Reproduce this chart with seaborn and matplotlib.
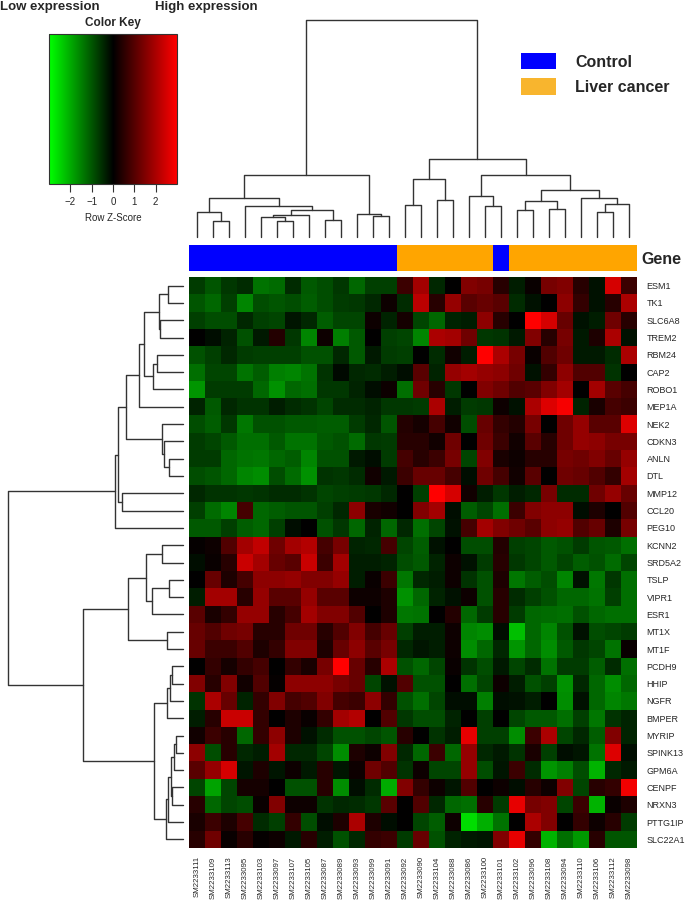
import numpy as np
import pandas as pd
import matplotlib.pyplot as plt
from matplotlib.colors import LinearSegmentedColormap, ListedColormap
from matplotlib.patches import Patch
import seaborn as sns

genes = ['ESM1', 'TK1', 'SLC6A8', 'TREM2', 'RBM24', 'CAP2', 'ROBO1', 'MEP1A', 'NEK2',
         'CDKN3', 'ANLN', 'DTL', 'MMP12', 'CCL20', 'PEG10', 'KCNN2', 'SRD5A2', 'TSLP',
         'VIPR1', 'ESR1', 'MT1X', 'MT1F', 'PCDH9', 'HHIP', 'NGFR', 'BMPER', 'MYRIP',
         'SPINK13', 'GPM6A', 'CENPF', 'NRXN3', 'PTTG1IP', 'SLC22A1']

samples = ['SM2233111', 'SM2233109', 'SM2233113', 'SM2233095', 'SM2233103', 'SM2233097',
           'SM2233107', 'SM2233105', 'SM2233087', 'SM2233089', 'SM2233093', 'SM2233099',
           'SM2233091', 'SM2233092', 'SM2233090', 'SM2233104', 'SM2233088', 'SM2233086',
           'SM2233100', 'SM2233101', 'SM2233102', 'SM2233096', 'SM2233108', 'SM2233094',
           'SM2233110', 'SM2233106', 'SM2233112', 'SM2233098']

groups = ['Control', 'Control', 'Control', 'Control', 'Control', 'Control', 'Control',
          'Control', 'Control', 'Control', 'Control', 'Control', 'Control',
          'Liver cancer', 'Liver cancer', 'Liver cancer', 'Liver cancer', 'Liver cancer',
          'Liver cancer', 'Control', 'Liver cancer', 'Liver cancer', 'Liver cancer',
          'Liver cancer', 'Liver cancer', 'Liver cancer', 'Liver cancer', 'Liver cancer']

# row z-scores, one list per gene (columns in sample order)
z_rows = [
    [-0.7, -1.0, -0.65, -0.5, -1.35, -1.25, -0.5, -1.05, -0.9, -0.65, -1.2, -0.75, -0.75, 0.7, 1.9, -0.45, 0, 1.5, 1.4, 0.45, -0.35, 0.1, 1.4, 1.5, 0.45, -0.2, 2.5, 0.7],
    [-1.0, -1.2, -0.75, -1.55, -0.9, -1.0, -0.9, -1.1, -0.9, -0.7, -0.65, -0.45, 0.15, -0.5, 2.2, 0.45, 1.75, 1.05, 1.2, 1.05, -0.5, -0.2, 0, 1.65, 0.6, -0.2, 0.45, 2.0],
    [-0.75, -0.9, -0.9, -0.45, -0.75, -0.8, -0.25, -0.45, -1.1, -0.8, -0.8, 0.15, -0.4, 0.25, -0.8, -1.2, -0.4, -0.35, 1.65, 0.45, 0, 3.0, 2.5, 1.2, -0.2, -0.35, 1.3, 0.45],
    [0, -0.15, -0.4, -0.95, -0.3, 0.4, -0.65, -1.55, 0.15, -1.5, -1.05, 0, -0.75, -0.8, -1.55, 2.0, 1.9, 1.3, -0.65, -0.6, -0.3, 1.5, 0.45, 1.4, -0.3, 0.35, 2.0, -0.2],
    [-0.95, -0.75, -0.45, -0.7, -0.75, -0.75, -0.75, -0.95, -0.95, -0.45, -1.05, -0.3, -0.7, -0.75, 0, -0.5, 0.2, -0.35, 3.0, 2.0, 1.4, 0.1, 0.95, 1.3, -0.3, -0.3, -0.5, 2.0],
    [-1.3, -0.8, -0.8, -1.35, -1.1, -1.5, -1.55, -1.35, -0.6, -0.1, -0.45, -0.5, -0.35, -0.15, 1.05, -0.4, 1.75, 1.9, 1.75, 1.65, 1.3, -0.2, 0.6, 1.65, 0.95, 0.95, -0.6, 0],
    [-1.75, -0.7, -0.7, -0.7, -1.2, -1.7, -1.2, -1.3, -0.65, -0.65, -0.4, -0.15, 0.15, -1.3, 1.3, 0.45, -0.65, 0, 1.5, 1.3, 0.95, 1.05, 1.5, 1.9, 0, 1.9, 1.05, 0.8],
    [-0.4, -1.05, -0.45, -0.6, -0.6, -0.35, -0.5, -0.6, -0.8, -0.5, -0.5, -0.4, -0.65, -0.65, -0.7, 2.0, -0.35, -0.7, -0.65, 0.15, -0.2, 2.0, 2.6, 2.9, -0.4, 0.3, 0.8, 0.7],
    [-0.9, -1.1, -0.65, -1.4, -0.95, -0.95, -1.05, -1.05, -1.1, -1.1, -0.7, -0.45, -1.0, 0.4, 0.25, 0.8, 0.2, -0.9, 1.2, 0.6, 0.4, 1.4, 0, 1.3, 1.75, 1.05, 1.05, 2.6],
    [-0.7, -0.8, -1.05, -1.3, -1.3, -1.05, -1.35, -1.35, -1.05, -0.95, -1.25, -0.65, -0.7, 0.45, 0.45, 0.2, 1.3, 0, 1.3, 0.7, 0.2, 1.05, 0.45, 1.3, 1.75, 1.65, 1.4, 1.4],
    [-0.7, -0.7, -1.2, -1.35, -1.4, -1.2, -1.1, -1.55, -0.95, -0.95, -0.3, -0.15, -0.7, 0.8, 0.45, 0.7, 1.4, -0.8, 1.5, 0.3, 0.15, 0.45, 0.45, 1.4, 1.3, 1.5, 1.2, 1.75],
    [-0.9, -1.0, -1.2, -1.55, -1.65, -0.9, -1.25, -1.7, -0.6, -0.65, -0.5, 0.2, -0.3, 0.7, 1.2, 1.2, 0.8, -0.15, 1.3, 0.8, 0.2, 1.05, 0, 1.3, 1.2, 0.95, 0.6, 1.9],
    [-0.45, -0.6, -0.6, -0.65, -0.6, -0.5, -0.5, -0.6, -0.8, -0.75, -0.7, -0.65, -0.45, 0, -0.75, 3.0, 2.5, 0.2, -0.35, -0.65, -0.35, -0.45, 1.4, -0.5, -0.5, 1.3, 1.75, 1.2],
    [-0.75, -1.25, -1.55, 0.8, -1.2, -1.1, -1.0, -1.0, -0.75, -0.45, 1.65, 0.3, 0.2, 0, 1.5, 1.9, -0.15, -1.1, -0.8, -1.3, 0.7, 1.5, 1.65, 1.65, -0.15, 0.35, 0, 0.95],
    [-1.05, -1.05, -0.75, -1.1, -1.2, -0.75, -0.15, 0, -0.95, -0.65, -1.2, -0.4, -1.2, -0.45, -1.3, -0.8, -0.2, 0.8, 1.9, 1.5, 1.3, 1.05, 1.65, 1.75, 0.95, 1.2, 0.35, 1.4],
    [0.05, 0.15, 0.95, 1.9, 2.25, 1.3, 1.9, 2.1, 0.8, 1.4, -0.4, -0.45, 0.8, -0.8, -1.1, -0.2, 0, -0.9, -0.9, 0.4, -0.75, -0.8, -1.05, -0.95, -0.7, -1.0, -1.05, -1.3],
    [-0.15, 0.1, 0.45, 2.35, 1.9, 1.2, 1.05, 2.35, 0.7, 1.9, -0.35, -0.35, -0.4, -0.9, -1.05, -0.4, 0.15, -0.2, -0.7, 0.45, -0.65, -0.8, -1.05, -0.8, -1.1, -0.95, -1.25, -0.8],
    [0, 1.2, 0.35, 0.8, 1.65, 1.65, 1.75, 1.5, 1.5, 1.75, -0.35, 0.1, 0.7, -1.4, -0.45, -0.35, 0.15, -0.6, -0.95, 0.35, -1.4, -1.1, -0.9, -1.55, -0.2, -1.4, -0.65, -1.3],
    [-0.35, 1.9, 1.9, 0.45, 1.75, 1.05, 1.05, 1.75, 1.05, 1.05, 0.15, 0.15, 0.35, -1.7, -1.2, -0.4, -0.2, 0.15, -0.95, 0.45, -0.5, -0.75, -0.95, -1.2, -1.2, -1.35, -0.75, -1.3],
    [1.05, 0.3, 0.6, 1.75, 1.75, 0.45, 0.8, 1.9, 1.5, 1.5, 0.95, 0, 0.35, -1.4, -1.35, 0, 0.4, -1.2, -0.7, 0.45, -0.7, -1.2, -1.25, -1.3, -0.95, -1.2, -1.3, -1.3],
    [1.2, 0.95, 1.3, 1.4, 0.45, 0.45, 1.3, 1.3, 0.45, 0.95, 1.5, 0.8, 1.2, -0.75, -0.35, -0.35, 0.15, -1.55, -1.65, -0.15, -2.25, -1.2, -1.55, -0.95, -0.2, -0.9, -0.8, -0.7],
    [1.2, 0.7, 0.7, 0.95, 0.35, 0.6, 1.5, 1.5, 0.35, 1.2, 1.65, 1.05, 1.4, -0.45, -0.25, -0.35, 0.15, -1.65, -1.2, -0.45, -1.75, -1.2, -1.65, -1.05, -0.65, -0.8, -1.35, 0.1],
    [0, 0.6, 0.25, 0.6, 0.8, 0, 0.6, 0.3, 1.4, 3.0, 1.2, 0.45, 2.0, -0.95, -1.2, -0.8, 0.1, -0.6, -0.9, -0.3, -0.8, -0.5, -1.35, -0.7, -0.7, -1.1, -0.5, -1.3],
    [1.5, 0.45, 1.5, 0.2, 0.95, 0.05, 1.65, 1.65, 1.65, 1.4, 1.2, -0.8, -0.2, 0.95, -0.95, -0.95, 0, -1.3, -0.8, 0.15, -0.35, -0.95, -0.75, -1.7, -0.45, -1.2, -1.65, -1.2],
    [-0.6, 2.0, 1.2, -0.4, 0.6, 1.5, 0.8, 0.95, 1.5, 0.8, 0.7, 1.65, 0.6, -0.95, -1.3, -0.8, -0.15, -0.15, -1.5, -0.15, -0.2, -0.35, 0, -1.65, -0.2, -1.2, -1.55, -1.4],
    [-0.35, 0.45, 2.35, 2.35, 0.6, 0, 0.35, 0.1, 0.6, 1.9, 2.1, 0, 0.95, -0.65, -0.9, -0.9, -0.4, 0, -0.75, 0, -0.8, -1.05, -1.05, -1.3, -0.75, -1.4, -0.6, -0.4],
    [0.2, 0.7, 0.45, -1.2, 0.6, 1.65, 0.35, -0.2, -0.5, -0.95, -0.95, -0.8, -1.0, 0.45, 0, -0.6, -0.35, 2.7, -0.75, -0.75, -1.65, 0.7, 2.0, -0.8, -0.45, -1.1, 1.5, -0.4],
    [1.65, -0.9, 0.45, -0.45, -0.35, 1.9, -0.45, -0.45, -0.8, -1.65, 0.35, 0.15, 1.5, -0.45, -1.2, 0.7, -1.2, 1.75, -0.45, -0.3, -0.6, 0.3, -0.75, -0.15, -0.25, -1.35, 2.6, -0.15],
    [1.05, 1.75, 2.5, -0.25, 0.35, -0.25, 0.15, -0.3, 0.45, -0.25, 0.15, 1.3, 0.95, -0.6, 0.15, -0.8, -0.8, 1.75, -0.9, -0.25, 0.7, -0.5, -1.75, -1.5, -0.9, -2.1, -0.45, -0.3],
    [-0.8, -1.9, -0.8, 0.25, 0.25, 0, -0.95, -0.95, 0.45, -1.65, -0.15, -0.5, -2.0, 1.5, 0.6, 0.15, -0.25, 0.95, 0, 0.15, -0.15, 0.45, 0.15, 1.5, -0.8, 0.45, 0.6, 2.85],
    [0.45, -1.2, -0.8, -0.9, 0.1, 1.5, 0.15, 0.15, -0.6, -0.45, -0.5, -0.65, 1.05, 0, 0.95, -0.45, -1.2, -1.3, 0.45, -0.7, 2.7, 1.4, 1.5, -0.8, 0.7, -2.1, 0.1, 0.35],
    [0.3, 0.7, 0.35, 0.8, -0.5, -0.75, 0.6, -0.9, -0.15, 0.35, 2.0, 0.35, -0.15, 0, -0.8, -1.1, 0.15, -2.6, -2.05, -1.35, 0, 2.0, 1.5, 0, 0.6, 0.15, 0.45, -0.7],
    [0.45, 1.3, 0.1, 0.45, 0.05, 0.15, -0.3, 0.45, -0.35, -0.95, -0.45, 0.6, 0.7, -0.7, 1.2, -0.95, -0.4, -0.3, -0.25, 1.5, 2.7, 0.6, -2.1, -1.3, -1.8, 0.45, -1.0, -1.0],
]

# dendrogram merges, scipy style: (left, right, height); ids >= n are earlier merges
col_merges = [
    (1, 2, 47), (0, 28, 76), (5, 6, 47), (4, 30, 60), (31, 7, 65), (8, 9, 50),
    (32, 33, 80), (3, 34, 92), (29, 35, 117), (11, 12, 62), (10, 37, 70), (36, 38, 187),
    (13, 14, 95), (15, 16, 112), (40, 41, 175), (18, 19, 94), (17, 43, 123), (20, 21, 80),
    (22, 23, 85), (45, 46, 107), (25, 26, 75), (48, 27, 100), (24, 49, 116), (47, 50, 140),
    (44, 51, 187), (42, 52, 233), (39, 53, 650),
]
row_merges = [
    (0, 1, 46), (2, 3, 68), (33, 34, 73), (4, 5, 78), (36, 6, 90), (35, 37, 116),
    (38, 7, 131), (10, 11, 43), (9, 40, 58), (8, 41, 63), (39, 42, 170), (12, 13, 181),
    (43, 44, 193), (45, 14, 203), (15, 16, 63), (17, 18, 41), (48, 19, 93), (47, 49, 112),
    (20, 21, 48), (50, 51, 163), (22, 23, 33), (53, 24, 38), (54, 25, 48), (26, 27, 21),
    (56, 28, 26), (29, 30, 33), (57, 58, 35), (59, 31, 45), (60, 32, 51), (55, 61, 88),
    (52, 62, 298), (46, 63, 523),
]

group_colors = {'Control': '#0000FF', 'Liver cancer': '#FFA500'}
legend_colors = {'Control': '#0000FF', 'Liver cancer': '#F8B52E'}


def dendro_segments(merges, n):
    pos = {i: i + 0.5 for i in range(n)}
    hgt = {i: 0.0 for i in range(n)}
    segs = []
    for k, (a, b, h) in enumerate(merges):
        segs.append(([pos[a], pos[a], pos[b], pos[b]], [hgt[a], h, h, hgt[b]]))
        pos[n + k] = (pos[a] + pos[b]) / 2
        hgt[n + k] = h
    return segs


sns.set_style('white')
plt.rcParams['font.family'] = ['Liberation Sans', 'DejaVu Sans']

W, H = 685, 901
fig = plt.figure(figsize=(W / 100, H / 100), dpi=100)


def box(x0, y0, x1, y1):
    # pixel box (top-left origin) -> figure fraction rect
    return [x0 / W, 1 - y1 / H, (x1 - x0) / W, (y1 - y0) / H]


df = pd.DataFrame(np.array(z_rows), index=genes, columns=samples)
cmap = LinearSegmentedColormap.from_list('greenred', ['#00FF00', '#000000', '#FF0000'])

ax_hm = fig.add_axes(box(189, 277, 637, 848))
ax_key = fig.add_axes(box(49, 34, 177, 184))
sns.heatmap(df, cmap=cmap, vmin=-3, vmax=3, ax=ax_hm, cbar_ax=ax_key,
            cbar_kws={'orientation': 'horizontal'}, xticklabels=True, yticklabels=True)
ax_hm.yaxis.tick_right()
ax_hm.tick_params(axis='y', length=0, pad=7, labelsize=6.5, labelrotation=0)
ax_hm.tick_params(axis='x', length=0, pad=6, labelsize=5.7, labelrotation=90)
ax_hm.set_xlabel('')
ax_hm.set_ylabel('')

# color key
cb = ax_hm.collections[0].colorbar
cb.set_ticks([-2, -1, 0, 1, 2])
cb.outline.set_linewidth(0.8)
cb.outline.set_edgecolor('#333333')
ax_key.tick_params(axis='x', length=5.5, width=0.8, pad=4, labelsize=7, color='#333333')
ax_key.set_xlabel('Row Z-Score', fontsize=7, labelpad=4)
ax_key.set_title('Color Key', fontsize=8.5, fontweight='bold', pad=6)

# sample group bar
ax_bar = fig.add_axes(box(189, 245, 637, 271))
codes = np.array([[0 if g == 'Control' else 1 for g in groups]])
sns.heatmap(codes, cmap=ListedColormap([group_colors['Control'], group_colors['Liver cancer']]),
            vmin=0, vmax=1, cbar=False, xticklabels=False, yticklabels=False, ax=ax_bar)
ax_bar.text(1.01, 0.45, 'Gene', transform=ax_bar.transAxes, ha='left', va='center',
            fontsize=11.5, fontweight='bold')

# column dendrogram
ax_cd = fig.add_axes(box(189, 20, 637, 237))
for xs, ys in dendro_segments(col_merges, len(samples)):
    ax_cd.plot(xs, ys, color='#333333', lw=1.0, clip_on=False)
ax_cd.set_xlim(0, len(samples))
ax_cd.set_ylim(0, col_merges[-1][2])
ax_cd.axis('off')

# row dendrogram
ax_rd = fig.add_axes(box(8, 277, 183, 848))
for ys, xs in dendro_segments(row_merges, len(genes)):
    ax_rd.plot(xs, ys, color='#333333', lw=1.0, clip_on=False)
ax_rd.set_xlim(row_merges[-1][2], 0)
ax_rd.set_ylim(len(genes), 0)
ax_rd.axis('off')

fig.text(0, 1 - 7 / H, 'Low expression', fontsize=9.5, fontweight='bold', ha='left', va='center')
fig.text(155 / W, 1 - 7 / H, 'High expression', fontsize=9.5, fontweight='bold', ha='left', va='center')

handles = [Patch(facecolor=legend_colors[k], edgecolor='none') for k in ['Control', 'Liver cancer']]
fig.legend(handles, ['Control', 'Liver cancer'], loc='upper left', bbox_to_anchor=(521 / W, 1 - 53 / H),
           frameon=False, prop={'weight': 'bold', 'size': 11.5}, handlelength=2.2, handleheight=1.2,
           handletextpad=1.2, labelspacing=0.55, borderpad=0, borderaxespad=0)

fig.savefig('out.png', dpi=100)
